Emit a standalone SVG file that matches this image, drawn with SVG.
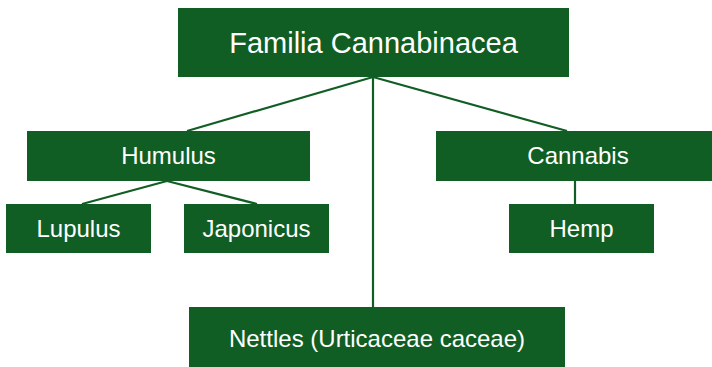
<svg xmlns="http://www.w3.org/2000/svg" width="712" height="367" viewBox="0 0 712 367">
<style>
.box{fill:#105e24}
.t{fill:#ffffff;font-family:"Liberation Sans",Arial,sans-serif;font-size:24px;text-anchor:middle}
.big{font-size:29px}
.c{stroke:#105e24;stroke-width:2.2;fill:none}
</style>
<rect width="712" height="367" fill="#ffffff"/>
<g id="connectors">
<line class="c" x1="373" y1="77" x2="187" y2="131"/>
<line class="c" x1="373" y1="77" x2="567" y2="131"/>
<line class="c" x1="373" y1="77" x2="373" y2="307"/>
<line class="c" x1="167" y1="181" x2="82" y2="204"/>
<line class="c" x1="167" y1="181" x2="257" y2="204"/>
<line class="c" x1="575" y1="181" x2="575" y2="204"/>
</g>
<g id="familia">
<rect class="box" x="178" y="8" width="391" height="69"/>
<text class="t big" x="373.5" y="53">Familia Cannabinacea</text>
</g>
<g id="humulus">
<rect class="box" x="27" y="131" width="283" height="50"/>
<text class="t" x="168.5" y="164">Humulus</text>
</g>
<g id="cannabis">
<rect class="box" x="436" y="131" width="276" height="50"/>
<text class="t" x="578" y="164">Cannabis</text>
</g>
<g id="lupulus">
<rect class="box" x="6" y="204" width="145" height="49"/>
<text class="t" x="78.5" y="237">Lupulus</text>
</g>
<g id="japonicus">
<rect class="box" x="184" y="204" width="145" height="49"/>
<text class="t" x="256.5" y="237">Japonicus</text>
</g>
<g id="hemp">
<rect class="box" x="509" y="204" width="145" height="49"/>
<text class="t" x="581.5" y="237">Hemp</text>
</g>
<g id="nettles">
<rect class="box" x="189" y="307" width="376" height="60"/>
<text class="t" x="377" y="347">Nettles (Urticaceae caceae)</text>
</g>
</svg>
